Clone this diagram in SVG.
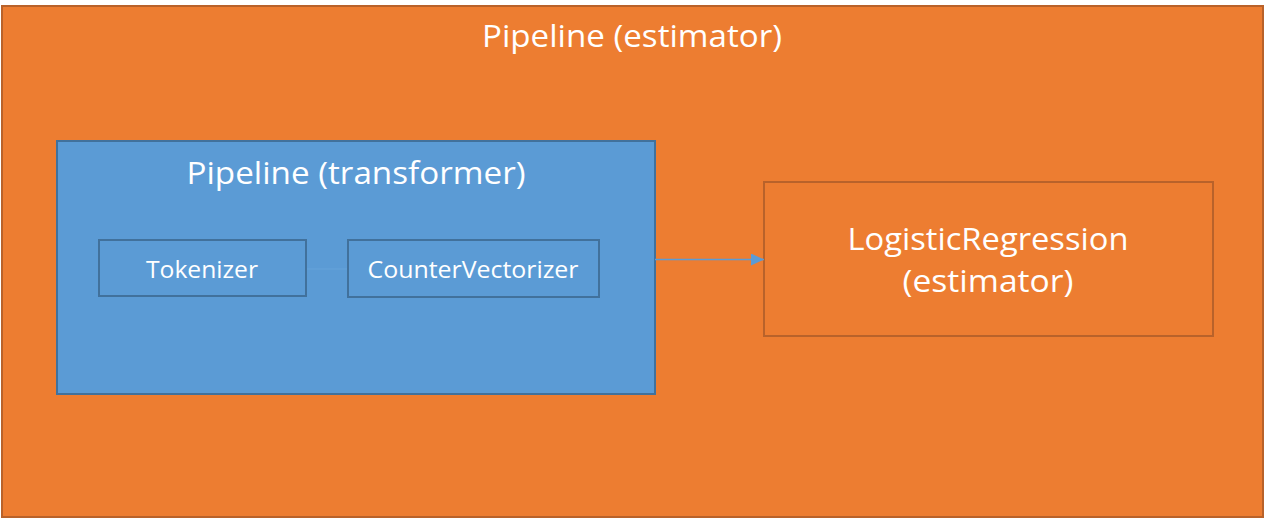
<svg xmlns="http://www.w3.org/2000/svg" width="1264" height="518" viewBox="0 0 1264 518">
<style>
.orange{fill:#ED7D31;stroke:#B9622A;stroke-width:2}
.blue{fill:#5B9BD5;stroke:#41719C;stroke-width:2}
.inner{fill:#5B9BD5;stroke:#41719C;stroke-width:2}
text{font-family:"Open Sans","Liberation Sans",sans-serif;fill:#FFFFFF;text-anchor:middle}
</style>
<defs>
<marker id="arr" markerWidth="13" markerHeight="12" refX="13" refY="6" orient="auto" markerUnits="userSpaceOnUse">
<path d="M0,0 L13,6 L0,12 Z" fill="#5B9BD5"/>
</marker>
</defs>
<rect width="1264" height="518" fill="#FFFFFF"/>
<g id="pipeline-estimator">
<rect class="orange" x="2" y="6" width="1261" height="511"/>
<text x="632" y="47" font-size="31" textLength="300" lengthAdjust="spacingAndGlyphs">Pipeline (estimator)</text>
</g>
<g id="pipeline-transformer">
<rect class="blue" x="57" y="141" width="598" height="253"/>
<text x="356" y="184" font-size="31" textLength="339" lengthAdjust="spacingAndGlyphs">Pipeline (transformer)</text>
</g>
<g id="tokenizer">
<rect class="inner" x="99" y="240" width="207" height="56"/>
<text x="202" y="278" font-size="24" textLength="112" lengthAdjust="spacingAndGlyphs">Tokenizer</text>
</g>
<g id="countervectorizer">
<rect class="inner" x="348" y="240" width="251" height="57"/>
<text x="473" y="278" font-size="24" textLength="211" lengthAdjust="spacingAndGlyphs">CounterVectorizer</text>
</g>
<g id="logisticregression">
<rect class="orange" x="764" y="182" width="449" height="154"/>
<text x="988" y="250" font-size="31" textLength="281" lengthAdjust="spacingAndGlyphs">LogisticRegression</text>
<text x="988" y="292" font-size="31" textLength="171" lengthAdjust="spacingAndGlyphs">(estimator)</text>
</g>
<g id="connectors">
<line x1="307" y1="269" x2="347" y2="269" stroke="#66A3DA" stroke-width="1"/>
<line x1="655" y1="259.5" x2="764" y2="259.5" stroke="#5B9BD5" stroke-width="1.5" marker-end="url(#arr)"/>
</g>
</svg>
